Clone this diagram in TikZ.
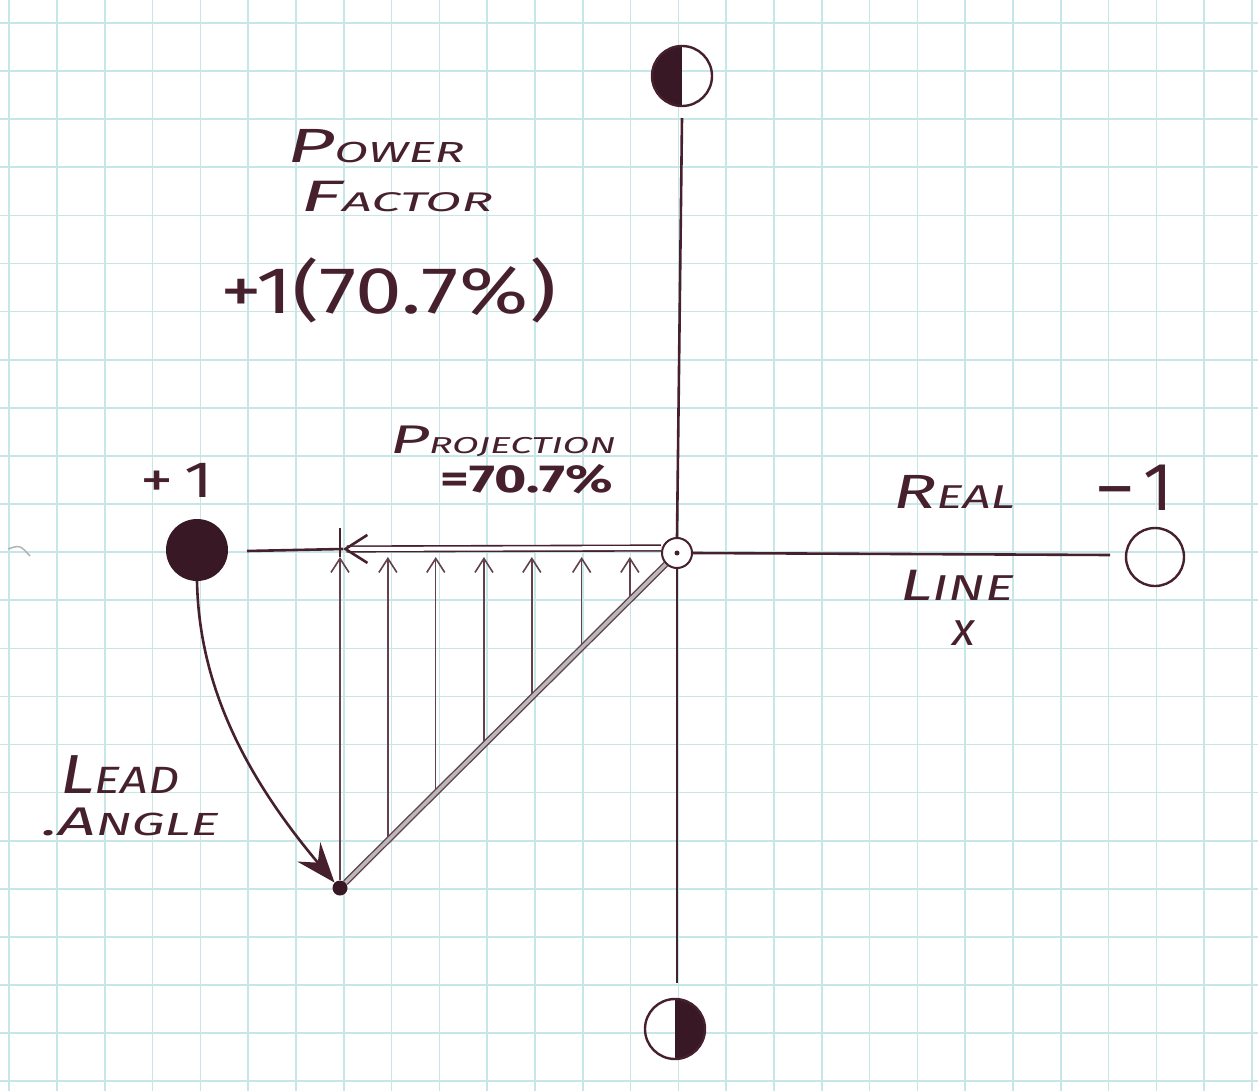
\documentclass[tikz,border=0pt]{standalone}
\usepackage{fontspec}
\newfontfamily\hand{Fira Sans}
\usetikzlibrary{arrows.meta,calc}
\definecolor{ink}{RGB}{70,32,45}
\definecolor{inkfill}{RGB}{55,24,36}
\definecolor{gridc}{RGB}{198,230,232}
\newcommand\hl[4]{{\fontsize{#1}{#1}\selectfont #3}{\fontsize{#2}{#2}\selectfont #4}}
\tikzset{
  lab/.style={inner sep=0pt, text=ink, font=\hand\itshape},
  axisline/.style={draw=ink, line width=2.6pt},
  gridline/.style={draw=gridc, line width=1.6pt},
  thinarrow/.style={draw=ink!85, line width=1.4pt, -{Straight Barb[length=14pt,width=18pt,line width=1.6pt]}},
  bigdot/.style={circle, inner sep=0pt, fill=inkfill},
}
\begin{document}
\begin{tikzpicture}[x=1pt,y=-1pt]
\useasboundingbox (0,0) rectangle (1258,1091);
\fill[white] (0,0) rectangle (1258,1091);
% grid
\foreach \gx in {9.2,57,104.8,152.6,200.4,248.2,296,343.8,391.6,439.4,487.2,535,582.8,630.6,678.4,726.2,774,821.8,869.6,917.4,965.2,1013,1060.8,1108.6,1156.4,1204.2,1252}
  \draw[gridline] (\gx,0) -- (\gx,1091);
\foreach \gy in {23,71.1,119.2,167.3,215.4,263.5,311.6,359.7,407.8,455.9,504,552.1,600.2,648.3,696.4,744.5,792.6,840.7,888.8,936.9,985,1033.1,1081.2}
  \draw[gridline] (0,\gy) -- (1258,\gy);
% edge mark
\draw[gray!60, line width=1.5pt] (8,549) .. controls (20,545) .. (30,556);

% nodes
\node[circle, draw=ink, line width=2.4pt, minimum size=60pt, inner sep=0pt,
  path picture={\fill[inkfill] (path picture bounding box.south west) rectangle (path picture bounding box.north);}] (im) at (682,76) {};
\node[circle, draw=ink, line width=2.4pt, minimum size=60pt, inner sep=0pt,
  path picture={\fill[inkfill] (path picture bounding box.south) rectangle (path picture bounding box.north east);}] (imb) at (675,1029) {};
\node[bigdot, minimum size=62pt] (plus) at (197,550) {};
\node[circle, draw=ink, line width=2.4pt, minimum size=58pt, inner sep=0pt] (minus) at (1155,557) {};
\node[circle, draw=ink, line width=2pt, fill=white, minimum size=30pt, inner sep=0pt] (ctr) at (677,553) {};
\node[circle, fill=ink, minimum size=5pt, inner sep=0pt] (ctrdot) at (ctr) {};
\node[bigdot, minimum size=15pt] (dot) at (340,888) {};

\coordinate (topend) at (682,118);
\coordinate (botend) at (677,983);
\coordinate (rend) at (1110,555);
\coordinate (lstart) at (247,551);
\coordinate (projtip) at (343,549);
\coordinate (pstart) at ($(ctr.west)+(0,-5)$);
\coordinate (tipline) at (0,557);
\coordinate (longtop) at (340,528);

% axes
\draw[axisline] (topend) -- (ctr.north);
\draw[axisline] (ctr.south) -- (botend);
\draw[axisline] (ctr.east) -- (rend);
\draw[axisline] (lstart) -- (projtip);

% projection arrows
\foreach \f/\n in {0.147/a,0.294/b,0.442/c,0.589/d,0.742/e,0.89/f}{
  \coordinate (v\n) at ($(dot)!\f!(ctr.south west)$);
  \draw[thinarrow] (v\n) -- (v\n |- tipline);
}
\draw[thinarrow, line width=2pt] (dot) -- (dot |- tipline);
\draw[ink, line width=2pt] (dot |- tipline) -- (longtop);

% diagonal
\draw[draw=ink!85, line width=1.4pt, double=gray!55, double distance=3.5pt] (dot) -- (ctr.south west);

% projection double arrow
\draw[ink, line width=1.6pt, double=white, double distance=4pt, -{Straight Barb[length=22pt,width=28pt,line width=2.6pt]}] (pstart) -- (projtip);

% lead angle arrow
\draw[axisline, -{Stealth[length=40pt,width=30pt,inset=14pt]}] (plus.south) .. controls (199,680) and (240,770) .. (dot.north west);

% labels
\node[lab, anchor=base west, xscale=1.7] (power) at (287,163) {\hl{48}{29}{P}{OWER}};
\node[lab, anchor=base west, xscale=1.95] (factor) at (300,212) {\hl{44}{27}{F}{ACTOR}};
\node[lab, anchor=base west, xscale=1.27, font=\hand] (pf) at (220,313) {\fontsize{66}{66}\selectfont +1(70.7\%)};
\node[lab, anchor=base west, xscale=1.69] (proj) at (390,453) {\hl{40}{23}{P}{ROJECTION}};
\node[lab, anchor=base west, xscale=1.42, font=\hand\bfseries] (projv) at (440,492) {\fontsize{39}{39}\selectfont =70.7\%};
\node[lab, anchor=base west, xscale=1.3, font=\hand] (p1) at (140,497) {\fontsize{51}{51}\selectfont +\,1};
\node[lab, anchor=base west, font=\hand] (m1) at (1097,510) {\fontsize{68}{68}\selectfont –\,1};
\node[lab, anchor=base west, xscale=1.5] (real) at (893,508) {\hl{48}{33}{R}{EAL}};
\node[lab, anchor=base west, xscale=1.5] (line) at (900,600) {\hl{44}{36}{L}{INE}};
\node[lab, anchor=base west] (xl) at (952,645) {\fontsize{47}{47}\selectfont x};
\node[lab, anchor=base west, xscale=1.28] (lead) at (60,793) {\hl{55}{38}{L}{EAD}};
\node[lab, anchor=base west, xscale=1.65] (angle) at (42,835) {\hl{40}{32}{.A}{NGLE}};
\end{tikzpicture}
\end{document}
